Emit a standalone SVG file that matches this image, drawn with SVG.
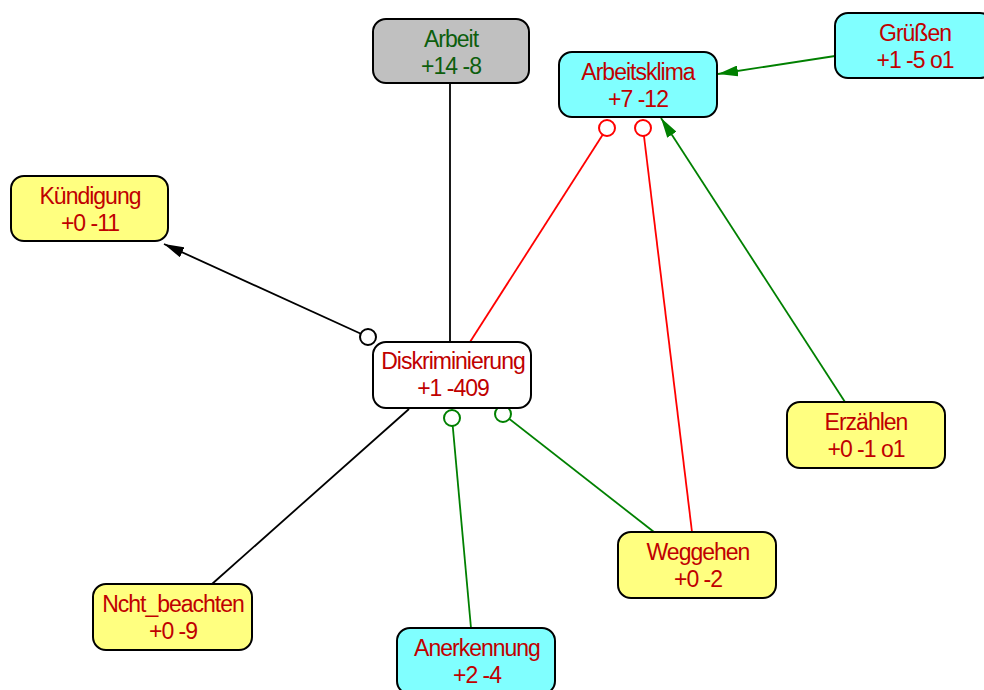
<svg xmlns="http://www.w3.org/2000/svg" width="984" height="690" viewBox="0 0 984 690">
  <defs>
    <style>
      .box { stroke: #000; stroke-width: 2; }
      .gray { fill: #c0c0c0; }
      .cyan { fill: #80ffff; }
      .yellow { fill: #ffff80; }
      .white { fill: #ffffff; }
      .lbl { font-family: "Liberation Sans", Arial, sans-serif; font-size: 23px; letter-spacing: -1px; text-anchor: middle; fill: #c00000; }
      .lbl.dark { fill: #0d5e0d; }
      .edge { fill: none; stroke-width: 1.8; }
      .blk { stroke: #000; }
      .red { stroke: #ff0000; }
      .grn { stroke: #008000; }
      .knob { fill: #fff; stroke-width: 2; }
    </style>
    <marker id="arrBlack" viewBox="0 0 20 11" refX="20" refY="5.5" markerWidth="20" markerHeight="11" markerUnits="userSpaceOnUse" orient="auto">
      <path d="M0,0 L20,5.5 L0,11 Z" fill="#000"/>
    </marker>
    <marker id="arrGreen" viewBox="0 0 20 11" refX="20" refY="5.5" markerWidth="20" markerHeight="11" markerUnits="userSpaceOnUse" orient="auto">
      <path d="M0,0 L20,5.5 L0,11 Z" fill="#008000"/>
    </marker>
  </defs>

  <rect width="984" height="690" fill="#ffffff"/>

  <!-- connectors -->
  <g id="connectors">
    <line class="edge blk" x1="450" y1="83" x2="450" y2="342"/>
    <line class="edge blk" x1="368" y1="337" x2="164" y2="244" marker-end="url(#arrBlack)"/>
    <circle class="knob blk" cx="368" cy="337" r="8"/>
    <line class="edge blk" x1="409" y1="409" x2="212" y2="584"/>
    <line class="edge red" x1="607" y1="128" x2="470" y2="342"/>
    <circle class="knob red" cx="607" cy="128" r="8"/>
    <line class="edge red" x1="643" y1="128" x2="692" y2="532"/>
    <circle class="knob red" cx="643" cy="128" r="8"/>
    <line class="edge grn" x1="845" y1="402" x2="661" y2="118" marker-end="url(#arrGreen)"/>
    <line class="edge grn" x1="835" y1="56" x2="718" y2="74" marker-end="url(#arrGreen)"/>
    <line class="edge grn" x1="452" y1="418" x2="471" y2="628"/>
    <circle class="knob grn" cx="452" cy="418" r="8"/>
    <line class="edge grn" x1="503" y1="414" x2="654" y2="532"/>
    <circle class="knob grn" cx="503" cy="414" r="8"/>
  </g>

  <!-- nodes -->
  <g id="arbeit">
    <rect class="box gray" x="373" y="19" width="156" height="64" rx="13"/>
    <text class="lbl dark" x="451" y="47">Arbeit</text>
    <text class="lbl dark" x="451" y="74">+14 -8</text>
  </g>
  <g id="arbeitsklima">
    <rect class="box cyan" x="559" y="52" width="158" height="65" rx="13"/>
    <text class="lbl" x="638" y="80">Arbeitsklima</text>
    <text class="lbl" x="638" y="107">+7 -12</text>
  </g>
  <g id="gruessen">
    <rect class="box cyan" x="835" y="13" width="158" height="65" rx="13"/>
    <text class="lbl" x="915" y="41">Grüßen</text>
    <text class="lbl" x="915" y="68">+1 -5 o1</text>
  </g>
  <g id="kuendigung">
    <rect class="box yellow" x="11" y="176" width="157" height="65" rx="13"/>
    <text class="lbl" x="90" y="204">Kündigung</text>
    <text class="lbl" x="90" y="231">+0 -11</text>
  </g>
  <g id="diskriminierung">
    <rect class="box white" x="373" y="342" width="158" height="66" rx="13"/>
    <text class="lbl" x="453" y="369">Diskriminierung</text>
    <text class="lbl" x="453" y="396">+1 -409</text>
  </g>
  <g id="erzaehlen">
    <rect class="box yellow" x="787" y="402" width="158" height="66" rx="13"/>
    <text class="lbl" x="866" y="430">Erzählen</text>
    <text class="lbl" x="866" y="457">+0 -1 o1</text>
  </g>
  <g id="weggehen">
    <rect class="box yellow" x="618" y="532" width="158" height="66" rx="13"/>
    <text class="lbl" x="698" y="560">Weggehen</text>
    <text class="lbl" x="698" y="587">+0 -2</text>
  </g>
  <g id="nicht_beachten">
    <rect class="box yellow" x="93" y="584" width="159" height="66" rx="13"/>
    <text class="lbl" x="173" y="612">Ncht_beachten</text>
    <text class="lbl" x="173" y="639">+0 -9</text>
  </g>
  <g id="anerkennung">
    <rect class="box cyan" x="397" y="628" width="158" height="66" rx="13"/>
    <text class="lbl" x="477" y="656">Anerkennung</text>
    <text class="lbl" x="477" y="683">+2 -4</text>
  </g>
</svg>
